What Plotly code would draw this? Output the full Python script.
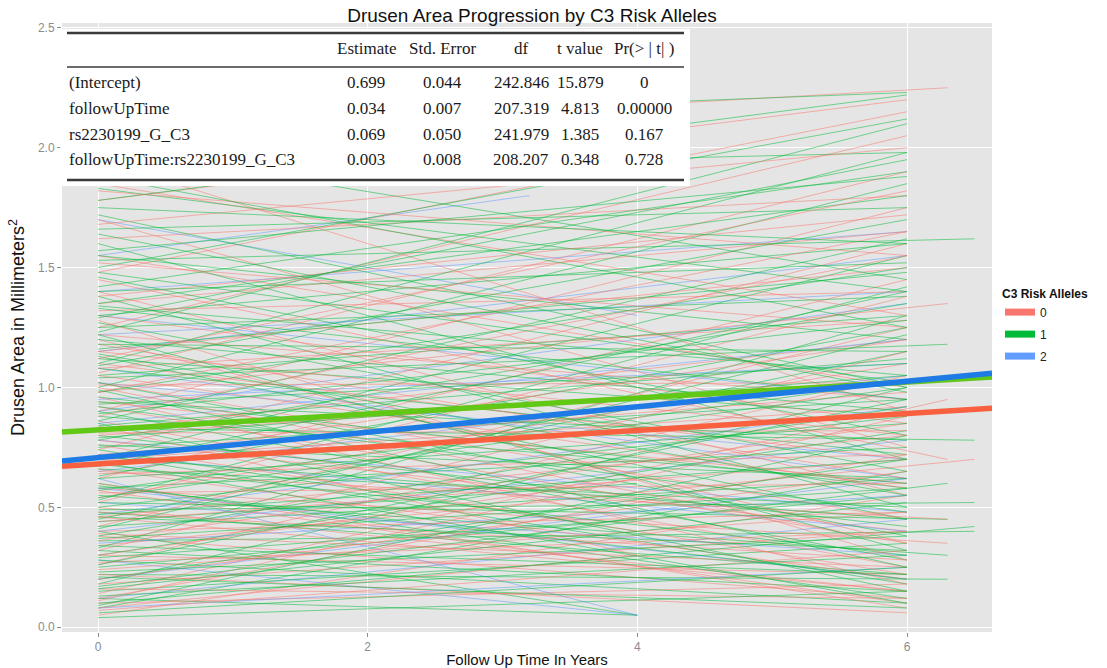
import plotly.graph_objects as go

# ---------------- data ----------------
# each subject: (area at year 0, last follow-up year, area at last follow-up)
red_subjects = [
    (0.05, 6, 0.55), (0.10, 6, 0.18), (0.14, 6.3, 0.95), (0.18, 6, 0.40), (0.22, 6, 0.06),
    (0.26, 6, 1.05), (0.30, 6, 0.22), (0.34, 6.5, 0.70), (0.38, 6, 0.12), (0.42, 6, 1.25),
    (0.46, 6, 0.80), (0.50, 6, 0.15), (0.54, 6, 1.10), (0.58, 6.3, 0.35), (0.62, 6, 1.45),
    (0.66, 6, 0.20), (0.70, 6, 0.92), (0.74, 6, 1.60), (0.78, 6, 0.40), (0.82, 6, 1.20),
    (0.86, 6, 0.25), (0.90, 6, 1.75), (0.94, 6, 0.60), (0.98, 6.3, 1.35), (1.02, 6, 0.45),
    (1.06, 6, 1.90), (1.10, 6, 0.70), (1.15, 6, 1.50), (1.20, 6, 0.35), (1.25, 6, 2.05),
    (1.30, 6, 0.85), (1.35, 6, 1.65), (1.40, 6, 0.55), (1.48, 6, 2.15), (1.55, 6, 1.00),
    (1.62, 6, 1.80), (1.70, 6, 0.75), (1.78, 6, 2.20), (1.85, 6, 1.30), (1.95, 6, 0.90),
    (2.05, 6.3, 2.25), (0.08, 4, 0.30), (0.24, 6, 0.48), (0.36, 6, 0.85), (0.48, 6, 0.28),
    (0.60, 6, 0.08), (0.72, 6, 0.98), (0.84, 4, 0.30), (0.96, 6, 0.18), (1.08, 6, 1.28),
    (1.18, 6, 0.62), (1.32, 6, 1.40), (1.45, 6.3, 0.70), (0.12, 6, 0.72), (0.40, 6, 0.48),
    (0.56, 6, 0.60), (0.80, 6.5, 1.05), (1.00, 5.5, 0.40),
    (0.07, 6, 0.32), (0.11, 6, 0.88), (0.16, 6, 0.12), (0.20, 6, 0.65), (0.27, 6, 0.40),
    (0.32, 6, 1.15), (0.39, 6, 0.25), (0.44, 6, 0.70), (0.52, 6, 1.38), (0.57, 6, 0.10),
    (0.64, 6, 0.72), (0.69, 6, 1.20), (0.76, 6, 0.22), (0.81, 6, 0.82), (0.88, 6, 1.55),
    (0.92, 6, 0.35), (1.01, 6, 1.02), (1.05, 6, 0.58), (1.12, 6, 1.82), (1.22, 6, 0.95),
    (1.28, 6, 0.28), (1.38, 6, 1.72), (1.52, 6, 1.25), (1.68, 6, 2.00), (1.82, 6, 1.55),
    (0.30, 4, 0.62), (0.65, 6.3, 0.45), (0.98, 6, 1.65), (1.15, 6, 0.80), (0.46, 6, 0.15),
]

green_subjects = [
    (0.08, 6, 0.65), (0.12, 4, 0.05), (0.15, 6, 0.35), (0.18, 6, 1.00), (0.22, 6.3, 0.20),
    (0.25, 6, 0.55), (0.28, 6, 0.10), (0.30, 6, 0.82), (0.33, 6, 1.30), (0.36, 6.5, 0.40),
    (0.40, 4, 0.05), (0.42, 6, 0.62), (0.45, 6, 1.15), (0.48, 6, 0.22), (0.50, 6, 0.88),
    (0.53, 6, 1.42), (0.55, 6.3, 0.30), (0.58, 6, 0.75), (0.60, 6, 0.12), (0.63, 6, 1.25),
    (0.66, 6, 0.50), (0.70, 6, 1.55), (0.72, 6, 0.18), (0.75, 6, 0.95), (0.78, 6, 1.35),
    (0.80, 6, 0.42), (0.83, 6.5, 0.78), (0.86, 6, 1.62), (0.90, 6, 0.28), (0.93, 6, 1.10),
    (0.96, 6, 0.58), (1.00, 6, 1.85), (1.02, 6, 0.38), (1.05, 6, 1.30), (1.08, 6, 0.72),
    (1.10, 6, 1.98), (1.13, 6, 0.45), (1.16, 6, 1.48), (1.20, 6, 0.90), (1.23, 6, 2.10),
    (1.27, 6, 0.65), (1.30, 6, 1.60), (1.34, 6, 1.05), (1.38, 6, 0.50), (1.42, 6, 1.90),
    (1.46, 6, 0.80), (1.50, 6, 2.12), (1.55, 6, 1.20), (1.60, 6, 0.70), (1.66, 6, 1.75),
    (1.72, 6, 1.00), (1.78, 6, 2.22), (1.83, 6, 1.40), (1.90, 6, 1.98), (2.00, 6, 1.45),
    (2.10, 6, 2.23), (0.10, 6.5, 0.42), (0.20, 6, 0.70), (0.32, 6, 0.15), (0.44, 4, 0.60),
    (0.57, 6.3, 1.05), (0.68, 6, 0.30), (0.88, 6, 0.60), (0.98, 6, 1.50), (1.12, 6, 0.88),
    (1.25, 6, 1.38), (1.53, 6.5, 1.62), (0.06, 6, 0.25), (0.38, 6, 0.92), (0.74, 4, 0.40),
    (1.35, 6, 1.80), (0.16, 6, 0.52), (0.52, 6.3, 0.45), (0.84, 6, 1.12),
    (0.04, 6, 0.15), (0.09, 6, 0.80), (0.13, 6, 0.30), (0.17, 6.3, 0.60), (0.21, 6, 0.08),
    (0.26, 6, 0.95), (0.29, 4, 0.45), (0.34, 6, 0.22), (0.37, 6, 0.58), (0.41, 6, 1.22),
    (0.46, 6, 0.32), (0.49, 6.5, 0.52), (0.54, 6, 1.00), (0.59, 6, 0.20), (0.62, 6, 0.85),
    (0.67, 6, 1.40), (0.71, 6, 0.45), (0.76, 6, 0.62), (0.79, 6, 1.05), (0.85, 6, 0.15),
    (0.89, 6, 1.28), (0.94, 6, 0.78), (0.99, 6, 0.25), (1.04, 6.3, 1.18), (1.09, 6, 1.70),
    (1.14, 6, 0.55), (1.18, 6, 1.15), (1.22, 6, 0.32), (1.29, 6, 1.95), (1.33, 6, 0.95),
    (1.40, 6, 1.52), (1.48, 6, 1.02), (1.57, 6, 1.88), (1.64, 6, 0.98), (1.75, 6, 1.60),
    (1.88, 6, 1.25), (0.23, 6, 0.38), (0.47, 6, 0.70), (0.69, 6, 0.10), (0.92, 6, 0.48),
]

blue_subjects = [
    (0.12, 6, 0.45), (0.28, 4, 0.05), (0.40, 6, 0.78), (0.52, 6, 0.30), (0.65, 6, 1.05),
    (0.78, 6, 0.48), (0.90, 6, 1.35), (1.02, 6, 0.70), (1.15, 6, 1.55), (1.30, 6, 0.95),
    (1.40, 6, 1.65), (1.55, 3.2, 1.80), (1.70, 4, 1.30), (0.20, 6, 0.62), (0.58, 6, 0.20),
    (0.95, 6, 1.10), (0.08, 6, 0.25), (0.35, 6, 0.55), (0.47, 6, 0.92), (0.72, 6, 0.40),
    (0.85, 6, 1.20), (1.08, 6, 0.62), (1.22, 6, 1.40), (0.62, 4, 0.05),
]

allele_levels = ["0", "1", "2"]
fit_intercept = [0.681, 0.823, 0.707]
fit_slope = [0.0350, 0.0332, 0.0532]

table_header = ["Estimate", "Std. Error", "df", "t value", "Pr(> | t| )"]
table_terms = ["(Intercept)", "followUpTime", "rs2230199_G_C3", "followUpTime:rs2230199_G_C3"]
table_estimate = ["0.699", "0.034", "0.069", "0.003"]
table_se = ["0.044", "0.007", "0.050", "0.008"]
table_df = ["242.846", "207.319", "241.979", "208.207"]
table_t = ["15.879", "4.813", "1.385", "0.348"]
table_p = ["0", "0.00000", "0.167", "0.728"]

# ---------------- styling ----------------
thin_colors = ["rgba(248,118,109,0.52)", "rgba(0,186,56,0.52)", "rgba(97,156,255,0.52)"]
fit_colors = ["#F9603F", "#62C816", "#1E7BE6"]
key_colors = ["#F8766D", "#00BA38", "#619CFF"]

X_RANGE = [-0.267, 6.63]
Y_RANGE = [-0.02, 2.52]
W, H = 1107, 668
ML, MR, MT, MB = 62, 115, 23, 36
PW, PH = W - ML - MR, H - MT - MB


def xp(px):
    return (px - ML) / PW


def yp(py):
    return (H - MB - py) / PH


fig = go.Figure()

groups = [red_subjects, green_subjects, blue_subjects]
n_max = max(len(g) for g in groups)
for i in range(n_max):
    for gi in (1, 0, 2):
        g = groups[gi]
        if i < len(g):
            y0, t1, y1 = g[i]
            fig.add_trace(go.Scatter(
                x=[0, t1], y=[y0, y1], mode="lines",
                line=dict(color=thin_colors[gi], width=1),
                showlegend=False, hoverinfo="skip"))

# fitted lines
for gi in (0, 1, 2):
    xs = X_RANGE
    ys = [fit_intercept[gi] + fit_slope[gi] * x for x in xs]
    fig.add_trace(go.Scatter(
        x=xs, y=ys, mode="lines",
        line=dict(color=fit_colors[gi], width=5.5),
        showlegend=False, hoverinfo="skip"))

# legend entries
for gi, lev in enumerate(allele_levels):
    fig.add_trace(go.Scatter(
        x=[None], y=[None], mode="lines", name=lev, legendgroup="g" + lev,
        line=dict(color=key_colors[gi], width=7)))

# ---------------- table overlay ----------------
shapes = []
shapes.append(dict(type="rect", xref="paper", yref="paper",
                   x0=xp(60), x1=xp(690), y0=yp(186), y1=yp(29),
                   fillcolor="white", line=dict(width=0), layer="above"))
for py, w in [(33, 2.5), (67, 1.5), (180, 2.5)]:
    shapes.append(dict(type="line", xref="paper", yref="paper",
                       x0=xp(67), x1=xp(684), y0=yp(py), y1=yp(py),
                       line=dict(color="#3a3a3a", width=w), layer="above"))

annotations = []
serif = "Liberation Serif, Times New Roman, serif"
col_centers = [366, 442, 521, 580, 644]
row_y = [82, 108, 134, 160]
FS = 17
for c, h in zip(col_centers, table_header):
    annotations.append(dict(xref="paper", yref="paper", x=xp(c), y=yp(49),
                            text=h, showarrow=False, xanchor="center", yanchor="middle",
                            font=dict(family=serif, size=FS, color="#1a1a1a")))
cols = [table_estimate, table_se, table_df, table_t, table_p]
for r, term in enumerate(table_terms):
    annotations.append(dict(xref="paper", yref="paper", x=xp(67), y=yp(row_y[r]),
                            text=term, showarrow=False, xanchor="left", yanchor="middle",
                            font=dict(family=serif, size=FS, color="#1a1a1a")))
    for c, col in zip(col_centers, cols):
        annotations.append(dict(xref="paper", yref="paper", x=xp(c), y=yp(row_y[r]),
                                text=col[r], showarrow=False, xanchor="center", yanchor="middle",
                                font=dict(family=serif, size=FS, color="#1a1a1a")))

sans = "Liberation Sans, Arial, sans-serif"
fig.update_layout(
    width=W, height=H,
    margin=dict(l=ML, r=MR, t=MT, b=MB, autoexpand=False),
    paper_bgcolor="white", plot_bgcolor="#E5E5E5",
    font=dict(family=sans),
    title=dict(text="Drusen Area Progression by C3 Risk Alleles",
               x=532 / W, y=1 - 15 / H, xanchor="center", yanchor="middle",
               font=dict(family=sans, size=19, color="#111111")),
    showlegend=True,
    legend=dict(x=xp(1000), y=yp(282), xanchor="left", yanchor="top",
                title=dict(text="<b>C3 Risk Alleles</b>", font=dict(size=12, color="#111111")),
                font=dict(size=12, color="#222222"), bgcolor="rgba(0,0,0,0)",
                itemwidth=30, tracegroupgap=3),
    shapes=shapes, annotations=annotations,
)
fig.update_xaxes(range=X_RANGE, tickvals=[0, 2, 4, 6], ticktext=["0", "2", "4", "6"],
                 showgrid=True, gridcolor="white", gridwidth=1.2, zeroline=False,
                 ticks="outside", ticklen=4, tickcolor="#8c8c8c",
                 tickfont=dict(size=12, color="#8c8c8c", family=sans),
                 title=dict(text="Follow Up Time In Years", standoff=4,
                            font=dict(size=15, color="#111111", family=sans)))
fig.update_yaxes(range=Y_RANGE, tickvals=[0, 0.5, 1.0, 1.5, 2.0, 2.5],
                 ticktext=["0.0", "0.5", "1.0", "1.5", "2.0", "2.5"],
                 showgrid=True, gridcolor="white", gridwidth=1.2, zeroline=False,
                 ticks="outside", ticklen=4, tickcolor="#8c8c8c",
                 tickfont=dict(size=12, color="#8c8c8c", family=sans),
                 title=dict(text="Drusen Area in Millimeters<sup>2</sup>", standoff=8,
                            font=dict(size=18, color="#111111", family=sans)))

fig.write_html("out.html")
